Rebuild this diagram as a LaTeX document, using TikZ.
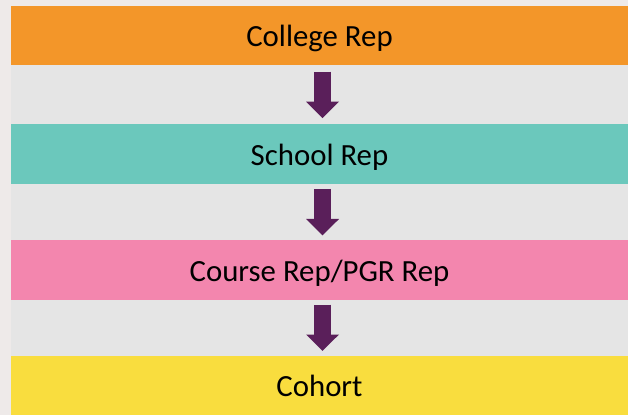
\documentclass[tikz,border=0pt]{standalone}
\usepackage{fontspec}
\setmainfont{Carlito}
\usetikzlibrary{arrows.meta,calc}
\definecolor{outerbg}{HTML}{EEEAE9}
\definecolor{panelbg}{HTML}{E5E5E5}
\definecolor{orangeband}{HTML}{F39629}
\definecolor{tealband}{HTML}{6BC8BC}
\definecolor{pinkband}{HTML}{F386AE}
\definecolor{yellowband}{HTML}{F9DD3E}
\definecolor{arrowpurple}{HTML}{5A1F5A}
\tikzset{
  band/.style={rectangle, draw=none, inner sep=0pt, minimum width=617pt, minimum height=59.5pt,
    text height=24pt, text depth=1.4pt, font=\fontsize{30.8}{36}\selectfont, text=black},
  fatarrow/.style={draw=arrowpurple, line width=17.5pt,
    -{Triangle[width=32pt,length=16.5pt,fill=arrowpurple]}}
}
\begin{document}
\begin{tikzpicture}[x=1pt,y=1pt]
  \fill[outerbg] (0,0) rectangle (628,415);
  \useasboundingbox (0,0) rectangle (628,415);
  \fill[panelbg] (11,0) rectangle (628,409);
  \node[band, fill=orangeband] (college) at (319.5,379.5) {College Rep};
  \node[band, fill=tealband] (school) at (319.5,260.75) {School Rep};
  \node[band, fill=pinkband] (course) at (319.5,144.75) {Course Rep/PGR Rep};
  \node[band, fill=yellowband] (cohort) at (319.5,29.75) {Cohort};
  \foreach \a/\b in {college/school, school/course, course/cohort}{
    \coordinate (m-\a) at ($(\a.south)!0.5!(\b.north)+(3,0)$);
    \draw[fatarrow] ($(m-\a)+(0,23.25)$) -- ($(m-\a)+(0,-23.25)$);
  }
\end{tikzpicture}
\end{document}
